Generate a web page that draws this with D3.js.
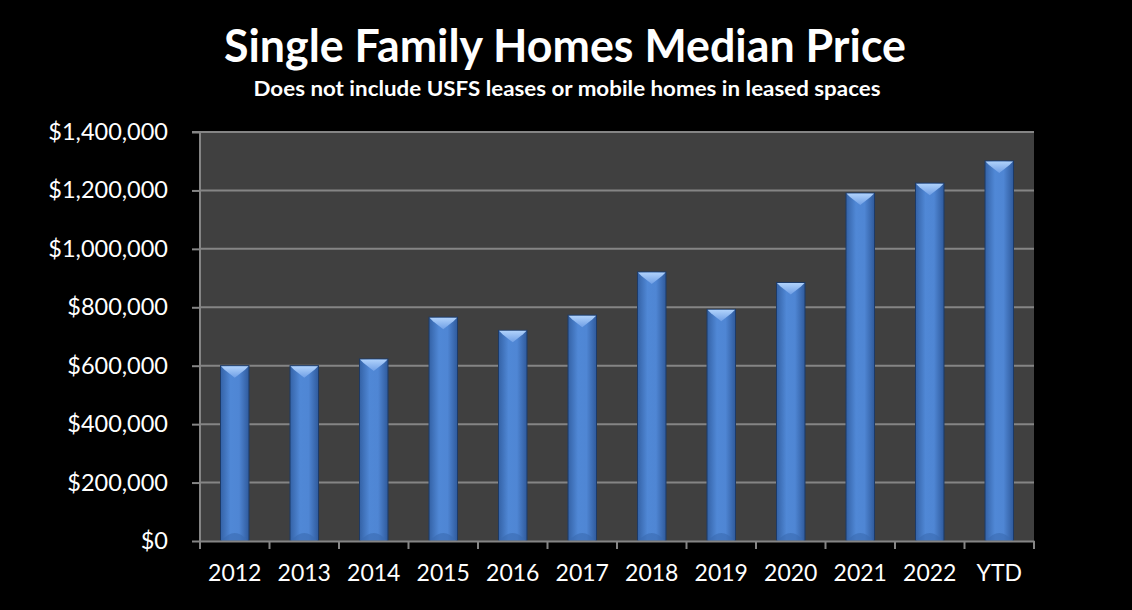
<!DOCTYPE html>
<html>
<head>
<meta charset="utf-8">
<script src="https://cdn.jsdelivr.net/npm/d3@7"></script>
<style>
  html, body { margin: 0; padding: 0; background: #000; }
  svg { display: block; }
</style>
</head>
<body>
<svg id="chart"></svg>
<script>
const categories = ["2012", "2013", "2014", "2015", "2016", "2017", "2018", "2019", "2020", "2021", "2022", "YTD"];
const medianPrice = [600000, 600000, 623000, 766000, 721000, 773000, 921000, 793000, 885000, 1191000, 1225000, 1301000];
const yTicks = [0, 200000, 400000, 600000, 800000, 1000000, 1200000, 1400000];

const titleText = "Single Family Homes Median Price";
const subtitleText = "Does not include USFS leases or mobile homes in leased spaces";

const W = 1132, H = 610;
const margin = { top: 132, right: 98, bottom: 69, left: 200 };
const width = W - margin.left - margin.right;
const height = H - margin.top - margin.bottom;
const font = "Lato, 'Open Sans', sans-serif";

const svg = d3.select("#chart").attr("width", W).attr("height", H);
svg.append("rect").attr("width", W).attr("height", H).attr("fill", "#000");

// gradients for the bars
const defs = svg.append("defs");
const grad = defs.append("linearGradient").attr("id", "barGrad")
    .attr("x1", "0").attr("x2", "1").attr("y1", "0").attr("y2", "0");
grad.append("stop").attr("offset", "0%").attr("stop-color", "#3462a6");
grad.append("stop").attr("offset", "35%").attr("stop-color", "#5088d6");
grad.append("stop").attr("offset", "65%").attr("stop-color", "#4f86d4");
grad.append("stop").attr("offset", "100%").attr("stop-color", "#2f5a9c");

const bevel = defs.append("linearGradient").attr("id", "bevelGrad")
    .attr("x1", "0").attr("x2", "0").attr("y1", "0").attr("y2", "1");
bevel.append("stop").attr("offset", "0%").attr("stop-color", "#b0d2fb");
bevel.append("stop").attr("offset", "100%").attr("stop-color", "#6f9fe6");

const g = svg.append("g").attr("transform", `translate(${margin.left},${margin.top})`);

const x = d3.scaleBand().domain(categories).range([0, width]).padding(0);
const y = d3.scaleLinear().domain([0, 1400000]).range([height, 0]);

// plot area
g.append("rect").attr("width", width).attr("height", height).attr("fill", "#404040");

// grid lines
g.append("g")
    .selectAll("line")
    .data(yTicks.filter(d => d > 0))
    .join("line")
    .attr("x1", 0).attr("x2", width)
    .attr("y1", d => y(d)).attr("y2", d => y(d))
    .attr("stroke", "#858585").attr("stroke-width", 2);

// bars
const barW = x.bandwidth() * 0.41;
const bars = g.append("g")
    .selectAll("g")
    .data(categories.map((c, i) => ({ cat: c, value: medianPrice[i] })))
    .join("g")
    .attr("transform", d => `translate(${x(d.cat) + (x.bandwidth() - barW) / 2},0)`);

bars.append("rect")
    .attr("y", d => y(d.value))
    .attr("width", barW)
    .attr("height", d => height - y(d.value))
    .attr("fill", "url(#barGrad)")
    .attr("stroke", "#1d3a66").attr("stroke-width", 1);

bars.append("path")
    .attr("d", d => {
        const t = y(d.value);
        return `M0.5,${t + 0.5} L${barW - 0.5},${t + 0.5} L${barW - 4},${t + 4} L${barW / 2},${t + 12} L4,${t + 4} Z`;
    })
    .attr("fill", "url(#bevelGrad)");

bars.append("path")
    .attr("d", d => `M1,${height} Q${barW / 2},${height - 16} ${barW - 1},${height} Z`)
    .attr("fill", "#3b6bb0").attr("opacity", 0.6);

// y axis
const yAxis = d3.axisLeft(y)
    .tickValues(yTicks)
    .tickSize(8)
    .tickPadding(24)
    .tickFormat(d => "$" + d3.format(",")(d));

const yg = g.append("g").call(yAxis);
yg.select(".domain").attr("stroke", "#858585").attr("stroke-width", 2).attr("d", `M-8,0H0V${height + 8}`);
yg.selectAll(".tick line").attr("stroke", "#858585").attr("stroke-width", 2);
yg.selectAll(".tick text")
    .attr("fill", "#fff")
    .style("font-family", font)
    .style("font-size", "23.5px");

// x axis
const xAxis = d3.axisBottom(x).tickSize(0).tickPadding(24).tickSizeOuter(0);
const xg = g.append("g").attr("transform", `translate(0,${height})`).call(xAxis);
xg.select(".domain").attr("stroke", "#858585").attr("stroke-width", 2);
xg.selectAll(".tick text")
    .attr("fill", "#fff")
    .style("font-family", font)
    .style("font-size", "23px");

// boundary ticks between categories
xg.append("g")
    .selectAll("line")
    .data(categories.map(c => x(c)).concat([width]))
    .join("line")
    .attr("x1", d => d).attr("x2", d => d)
    .attr("y1", 0).attr("y2", 8)
    .attr("stroke", "#858585").attr("stroke-width", 2);

// titles
svg.append("text")
    .attr("x", 565).attr("y", 62)
    .attr("text-anchor", "middle")
    .attr("fill", "#fff")
    .attr("textLength", 682).attr("lengthAdjust", "spacingAndGlyphs")
    .style("font-family", font)
    .style("font-weight", "bold")
    .style("font-size", "45px")
    .text(titleText);

svg.append("text")
    .attr("x", 567).attr("y", 96)
    .attr("text-anchor", "middle")
    .attr("fill", "#fff")
    .attr("textLength", 627).attr("lengthAdjust", "spacingAndGlyphs")
    .style("font-family", font)
    .style("font-weight", "bold")
    .style("font-size", "20px")
    .text(subtitleText);
</script>
</body>
</html>
